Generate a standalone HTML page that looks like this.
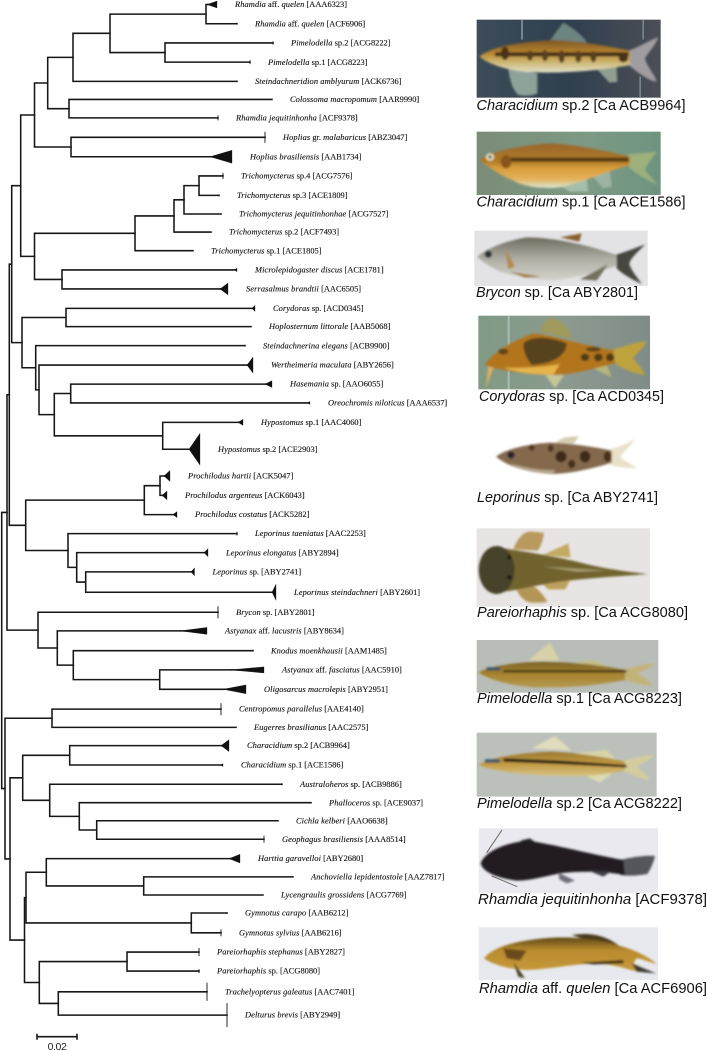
<!DOCTYPE html>
<html lang="en">
<head>
<meta charset="utf-8">
<title>Phylogenetic tree of fish species with photographs</title>
<style>
html,body{margin:0;padding:0;background:#fff;}
#wrap{position:relative;width:708px;height:1051px;overflow:hidden;background:#fff;}
svg{position:absolute;left:0;top:0;display:block;}
.lab{font-family:"Liberation Serif",serif;font-size:8.4px;fill:#111;stroke:#111;stroke-width:.12px;}
.cap{font-family:"Liberation Sans",sans-serif;font-size:14.5px;fill:#111;}
.scale{font-family:"Liberation Sans",sans-serif;font-size:10.5px;fill:#222;letter-spacing:-.4px;}
</style>
</head>
<body>
<div id="wrap">
<svg id="tree" width="708" height="1051" viewBox="0 0 708 1051" xmlns="http://www.w3.org/2000/svg"></svg>

<svg id="photos" width="708" height="1051" viewBox="0 0 708 1051" xmlns="http://www.w3.org/2000/svg">
<defs>
<filter id="soft" x="-5%" y="-5%" width="110%" height="110%"><feGaussianBlur stdDeviation="3"/></filter>
<linearGradient id="gChar2" x1="0" y1="0" x2="0" y2="1"><stop offset="0" stop-color="#7d5624"/><stop offset=".4" stop-color="#b8842f"/><stop offset=".62" stop-color="#c9ad63"/><stop offset="1" stop-color="#e0e2c8"/></linearGradient>
<linearGradient id="gChar1" x1="0" y1="0" x2="0" y2="1"><stop offset="0" stop-color="#98662a"/><stop offset=".4" stop-color="#b07a28"/><stop offset=".55" stop-color="#d99c3a"/><stop offset=".8" stop-color="#e4b25a"/><stop offset="1" stop-color="#dbe6d4"/></linearGradient>
<linearGradient id="gBry" x1="0" y1="0" x2="0" y2="1"><stop offset="0" stop-color="#6f6c5e"/><stop offset=".5" stop-color="#aeaea4"/><stop offset="1" stop-color="#d4d4cc"/></linearGradient>
<linearGradient id="gPim" x1="0" y1="0" x2="0" y2="1"><stop offset="0" stop-color="#7b6428"/><stop offset=".5" stop-color="#a8842f"/><stop offset="1" stop-color="#b39a55"/></linearGradient>
<linearGradient id="gPim2" x1="0" y1="0" x2="0" y2="1"><stop offset="0" stop-color="#9b7a30"/><stop offset=".5" stop-color="#c39a42"/><stop offset="1" stop-color="#d6c486"/></linearGradient>
<linearGradient id="gRh" x1="0" y1="0" x2="0" y2="1"><stop offset="0" stop-color="#5e4716"/><stop offset=".35" stop-color="#b98a2e"/><stop offset="1" stop-color="#c79b3c"/></linearGradient>
<linearGradient id="gBack1" x1="0" y1="0" x2="1" y2="0"><stop offset="0" stop-color="#3d4c58"/><stop offset=".5" stop-color="#2f3f4e"/><stop offset="1" stop-color="#4c4e56"/></linearGradient>
<linearGradient id="gBack2" x1="0" y1="0" x2="1" y2="0"><stop offset="0" stop-color="#7b8c78"/><stop offset=".6" stop-color="#7d9a84"/><stop offset="1" stop-color="#6d9480"/></linearGradient>
<linearGradient id="gBack4" x1="0" y1="0" x2="1" y2="0"><stop offset="0" stop-color="#7f9a84"/><stop offset=".5" stop-color="#8d9a8e"/><stop offset="1" stop-color="#7f8c88"/></linearGradient>
</defs>

<g transform="translate(460 10) scale(.33333)">
  <g>
    <rect x="50" y="29" width="552" height="234" fill="url(#gBack1)"/>
    <rect x="183" y="29" width="6" height="60" fill="#77838c"/>
    <rect x="547" y="29" width="5" height="60" fill="#77838c"/>
    <rect x="538" y="200" width="5" height="63" fill="#77838c"/>
    <g filter="url(#soft)">
      <path d="M270 92 C285 70 300 50 310 38 C340 55 365 75 382 98 Z" fill="#6d8580"/>
      <path d="M145 178 C150 210 155 235 175 255 C200 260 222 255 232 250 L232 190 Z" fill="#8da39a"/>
      <path d="M412 178 L448 218 L472 216 L470 172 Z" fill="#8f9e90"/>
      <path d="M505 122 C540 110 570 90 595 82 C585 110 560 130 555 148 C565 175 585 195 590 215 C560 210 525 180 505 165 Z" fill="#a09da0"/>
      <path d="M58 140 C90 115 150 98 280 90 C380 95 450 110 510 122 L510 165 C420 182 300 192 200 186 C140 180 90 165 58 140 Z" fill="url(#gChar2)"/>
      <rect x="105" y="127" width="400" height="12" fill="#3f2d16"/>
      <ellipse cx="135" cy="130" rx="12" ry="20" fill="#4a3317"/>
      <ellipse cx="210" cy="137" rx="9" ry="15" fill="#5a3f1b"/>
      <ellipse cx="255" cy="137" rx="9" ry="17" fill="#5a3f1b"/>
      <ellipse cx="305" cy="140" rx="9" ry="19" fill="#5a3f1b"/>
      <ellipse cx="355" cy="140" rx="9" ry="18" fill="#5a3f1b"/>
      <ellipse cx="400" cy="140" rx="9" ry="17" fill="#5a3f1b"/>
      <ellipse cx="490" cy="145" rx="14" ry="12" fill="#4a3317"/>
    </g>
  </g>
  <g>
    <rect x="50" y="365" width="552" height="190" fill="url(#gBack2)"/>
    <g filter="url(#soft)">
      <path d="M505 432 C540 430 570 428 590 425 C575 445 560 465 555 480 C565 495 585 515 595 525 C560 510 525 490 505 470 Z" fill="#9eb07c"/>
      <path d="M390 490 L450 485 L455 530 L430 535 Z" fill="#9db4a2"/>
      <path d="M300 528 L380 505 L385 545 L330 545 Z" fill="#a4bfaa"/>
      <path d="M58 450 C90 425 170 408 270 400 C360 405 450 425 510 440 L510 465 C450 480 360 520 300 532 C250 538 190 530 160 512 C120 495 85 470 58 450 Z" fill="url(#gChar1)"/>
      <rect x="130" y="443" width="375" height="12" fill="#523a19"/>
      <ellipse cx="138" cy="455" rx="16" ry="20" fill="#85551f"/>
      <ellipse cx="90" cy="441" rx="12" ry="11" fill="#efe4c8"/>
      <circle cx="90" cy="441" r="5" fill="#2b2210"/>
    </g>
  </g>
  <g>
    <rect x="43" y="662" width="520" height="166" fill="#e3e3e6"/>
    <g filter="url(#soft)">
      <path d="M300 682 L365 670 L358 695 Z" fill="#8a6030"/>
      <path d="M465 735 C500 725 530 712 555 704 C535 725 510 745 508 762 C515 785 535 805 545 822 C510 805 485 790 470 775 Z" fill="#46463f"/>
      <path d="M52 740 C80 715 140 692 200 682 C290 682 400 710 470 735 L470 768 C420 785 340 805 280 812 C220 810 150 795 120 785 C90 770 65 755 52 740 Z" fill="url(#gBry)"/>
      <path d="M360 808 L445 762 L410 812 Z" fill="#75705e"/>
      <path d="M150 785 L245 800 L195 803 Z" fill="#a87a3a"/>
      <path d="M135 712 L165 770 L145 778 Z" fill="#b58a4e"/>
      <circle cx="85" cy="733" r="11" fill="#2c3036"/>
    </g>
  </g>
</g>

<g transform="translate(460 300) scale(.33333)">
  <g>
    <rect x="55" y="47" width="515" height="221" fill="url(#gBack4)"/>
    <rect x="143" y="47" width="6" height="221" fill="#a8bcb2"/>
    <g filter="url(#soft)">
      <path d="M240 95 C250 75 255 60 270 55 C295 55 325 75 335 115 Z" fill="#a09a5c"/>
      <path d="M255 225 L285 265 L312 225 Z" fill="#c4c69a"/>
      <path d="M390 200 L440 195 L455 232 Z" fill="#b8b67c"/>
      <path d="M85 190 L78 265 L102 200 Z" fill="#dcae5e"/>
      <path d="M455 150 C490 140 530 125 560 125 C550 145 525 165 520 175 C535 195 550 210 555 225 C520 220 485 205 465 190 Z" fill="#bda23e"/>
      <path d="M75 195 C90 165 150 125 220 100 C280 105 380 140 460 150 L465 190 C420 200 340 225 280 225 C220 225 130 215 75 195 Z" fill="#b3741c"/>
      <path d="M190 130 C210 110 260 105 320 130 C320 160 290 190 215 195 C195 170 190 150 190 130 Z" fill="#57431c"/>
      <ellipse cx="415" cy="172" rx="13" ry="12" fill="#4f3b18"/>
      <ellipse cx="450" cy="172" rx="12" ry="12" fill="#4f3b18"/>
      <ellipse cx="375" cy="172" rx="13" ry="11" fill="#4f3b18"/>
      <ellipse cx="130" cy="155" rx="15" ry="9" fill="#5f4418"/>
      <ellipse cx="400" cy="148" rx="22" ry="7" fill="#5f4418"/>
      <path d="M130 203 C200 205 260 200 300 192 L280 224 C220 225 170 218 130 203 Z" fill="#e6b448"/>
    </g>
  </g>
  <g>
    <g filter="url(#soft)">
      <path d="M285 430 C300 415 320 408 357 410 L340 432 Z" fill="#d6ccb2"/>
      <path d="M440 450 C470 445 500 430 525 418 C510 440 485 460 482 472 C495 485 520 495 532 505 C500 505 460 500 440 490 Z" fill="#e8e0c8"/>
      <path d="M108 470 C130 450 200 432 270 428 C330 430 400 440 455 452 L455 488 C400 505 340 520 280 522 C220 520 150 505 108 470 Z" fill="#84694d"/>
      <path d="M150 490 C200 505 250 512 285 510 L280 520 C220 518 180 510 150 490 Z" fill="#b7a78f"/>
      <ellipse cx="303" cy="470" rx="17" ry="17" fill="#3f2a14"/>
      <ellipse cx="375" cy="470" rx="16" ry="18" fill="#3f2a14"/>
      <ellipse cx="335" cy="492" rx="11" ry="13" fill="#4a3018"/>
      <ellipse cx="443" cy="470" rx="12" ry="16" fill="#4a3018"/>
      <ellipse cx="272" cy="445" rx="9" ry="11" fill="#4f3720"/>
      <ellipse cx="215" cy="443" rx="9" ry="9" fill="#4f3720"/>
      <circle cx="153" cy="465" r="11" fill="#26262c"/>
    </g>
  </g>
  <g>
    <rect x="50" y="685" width="520" height="235" fill="#e7e4e3"/>
    <g filter="url(#soft)">
      <path d="M160 748 C170 720 185 700 205 695 C225 695 245 697 252 700 C248 725 240 745 232 752 Z" fill="#b89a5e"/>
      <path d="M165 858 C175 885 190 905 215 908 C235 908 255 908 262 905 C250 885 235 868 220 858 Z" fill="#b39657"/>
      <path d="M248 765 L325 730 L332 772 Z" fill="#c4a962"/>
      <path d="M245 850 L330 842 L315 868 L265 868 Z" fill="#bba15c"/>
      <path d="M130 745 C200 755 300 772 350 785 C420 805 500 815 562 822 C500 828 400 832 300 845 C230 855 180 870 130 875 Z" fill="#72642f"/>
      <path d="M250 800 L440 812 L350 815 Z" fill="#a89f74"/>
      <ellipse cx="110" cy="810" rx="54" ry="72" fill="#47432b"/>
      <circle cx="148" cy="832" r="7" fill="#1c1c18"/>
      <circle cx="148" cy="772" r="7" fill="#1c1c18"/>
    </g>
  </g>
</g>

<g transform="translate(460 630) scale(.33333)">
  <g>
    <rect x="50" y="30" width="545" height="158" fill="#b9bdb8"/>
    <g filter="url(#soft)">
      <path d="M205 92 L270 37 L298 92 Z" fill="#d8d2a8"/>
      <path d="M320 100 L400 90 L450 112 Z" fill="#c4bd88"/>
      <path d="M490 118 C520 112 560 100 585 100 C570 115 540 125 535 130 C550 140 570 155 578 168 C545 165 510 155 490 150 Z" fill="#c2b37a"/>
      <path d="M55 128 C80 110 160 97 250 95 C340 97 420 105 495 120 L495 150 C420 165 340 173 250 173 C170 172 100 155 55 128 Z" fill="url(#gPim)"/>
      <rect x="130" y="121" width="370" height="6" fill="#2e2716"/>
      <rect x="80" y="112" width="40" height="9" fill="#35506a"/>
    </g>
  </g>
  <g>
    <rect x="50" y="308" width="540" height="192" fill="#bcc0bb"/>
    <g filter="url(#soft)">
      <path d="M215 355 L285 318 L335 362 Z" fill="#e1dcbc"/>
      <path d="M340 370 L440 360 L470 390 Z" fill="#d8d4a8"/>
      <path d="M360 430 L470 420 L420 458 Z" fill="#dcdbb2"/>
      <path d="M485 392 C520 385 560 375 585 375 C570 390 535 405 530 410 C545 420 565 440 570 450 C540 445 505 430 485 420 Z" fill="#d4cc9c"/>
      <path d="M55 405 C85 385 170 368 280 365 C360 370 440 382 495 395 L495 420 C440 435 380 442 300 438 C220 435 120 430 55 405 Z" fill="url(#gPim2)"/>
      <path d="M130 385 L300 392 L500 405 L500 412 L300 402 L130 395 Z" fill="#231f14"/>
      <rect x="75" y="388" width="45" height="10" fill="#36566b"/>
    </g>
  </g>
  <g>
    <rect x="56" y="595" width="538" height="195" fill="#e9e9ef"/>
    <path d="M80 668 L126 600" stroke="#6b6460" stroke-width="3" fill="none"/>
    <path d="M95 738 L172 770" stroke="#7a7470" stroke-width="3" fill="none"/>
    <g filter="url(#soft)">
      <path d="M180 632 L210 625 L245 650 Z" fill="#2c2a2e"/>
      <path d="M480 690 C510 682 560 675 585 678 C580 700 570 720 562 732 C530 738 500 738 480 735 Z" fill="#55555c"/>
      <path d="M62 700 C75 665 130 640 200 632 C270 640 400 675 490 690 L495 735 C440 725 360 722 300 730 C250 740 210 752 170 752 C120 745 70 730 62 700 Z" fill="#211b20"/>
      <path d="M295 728 L345 752 L320 760 L298 748 Z" fill="#72707a"/>
      <path d="M385 722 L452 725 L430 740 Z" fill="#3e3d44"/>
    </g>
  </g>
  <g>
    <rect x="56" y="892" width="538" height="158" fill="#e7e9ee"/>
    <g filter="url(#soft)">
      <path d="M335 915 C380 908 430 910 478 948 C440 935 400 930 380 930 Z" fill="#4a3a1a"/>
      <path d="M72 985 C95 955 150 935 250 925 C320 918 420 925 470 945 C510 955 560 975 590 1002 C565 995 540 985 530 985 L520 1000 C540 1012 570 1022 588 1030 C565 1028 540 1026 520 1022 C480 1010 440 1000 400 1000 C320 1005 260 1018 200 1020 C150 1018 100 1005 72 985 Z" fill="url(#gRh)"/>
      <path d="M515 1000 L588 1030 L530 1025 Z" fill="#3e3a38"/>
      <path d="M160 995 L195 1045 L175 1040 Z" fill="#4c3e20"/>
      <path d="M130 955 L200 962 L180 992 L140 985 Z" fill="#6a4a1a"/>
      <path d="M360 998 L490 990 L490 1000 L400 1003 Z" fill="#3a2e16"/>
    </g>
  </g>
</g>

<text class="cap" x="476.5" y="110" textLength="209" lengthAdjust="spacingAndGlyphs"><tspan font-style="italic">Characidium</tspan> sp.2 [Ca ACB9964]</text>
<text class="cap" x="476.5" y="206.5" textLength="209" lengthAdjust="spacingAndGlyphs"><tspan font-style="italic">Characidium</tspan> sp.1 [Ca ACE1586]</text>
<text class="cap" x="476" y="297" textLength="162" lengthAdjust="spacingAndGlyphs"><tspan font-style="italic">Brycon</tspan> sp. [Ca ABY2801]</text>
<text class="cap" x="479" y="401" textLength="185" lengthAdjust="spacingAndGlyphs"><tspan font-style="italic">Corydoras</tspan> sp. [Ca ACD0345]</text>
<text class="cap" x="477" y="502" textLength="181" lengthAdjust="spacingAndGlyphs"><tspan font-style="italic">Leporinus</tspan> sp. [Ca ABY2741]</text>
<text class="cap" x="477" y="617" textLength="211" lengthAdjust="spacingAndGlyphs"><tspan font-style="italic">Pareiorhaphis</tspan> sp. [Ca ACG8080]</text>
<text class="cap" x="477" y="703" textLength="205" lengthAdjust="spacingAndGlyphs"><tspan font-style="italic">Pimelodella</tspan> sp.1 [Ca ACG8223]</text>
<text class="cap" x="477" y="808" textLength="205" lengthAdjust="spacingAndGlyphs"><tspan font-style="italic">Pimelodella</tspan> sp.2 [Ca ACG8222]</text>
<text class="cap" x="478" y="904" textLength="229" lengthAdjust="spacingAndGlyphs"><tspan font-style="italic">Rhamdia jequitinhonha</tspan> [ACF9378]</text>
<text class="cap" x="479" y="993" textLength="228" lengthAdjust="spacingAndGlyphs"><tspan font-style="italic">Rhamdia</tspan> aff. <tspan font-style="italic">quelen</tspan> [Ca ACF6906]</text>
</svg>
</div>

<script>
// Taxon labels, top to bottom
const taxa = [
"Rhamdia aff. quelen [AAA6323]","Rhamdia aff. quelen [ACF6906]","Pimelodella sp.2 [ACG8222]","Pimelodella sp.1 [ACG8223]",
"Steindachneridion amblyurum [ACK6736]","Colossoma macropomum [AAR9990]","Rhamdia jequitinhonha [ACF9378]","Hoplias gr. malabaricus [ABZ3047]",
"Hoplias brasiliensis [AAB1734]","Trichomycterus sp.4 [ACG7576]","Trichomycterus sp.3 [ACE1809]","Trichomycterus jequitinhonhae [ACG7527]",
"Trichomycterus sp.2 [ACF7493]","Trichomycterus sp.1 [ACE1805]","Microlepidogaster discus [ACE1781]","Serrasalmus brandtii [AAC6505]",
"Corydoras sp. [ACD0345]","Hoplosternum littorale [AAB5068]","Steindachnerina elegans [ACB9900]","Wertheimeria maculata [ABY2656]",
"Hasemania sp. [AAO6055]","Oreochromis niloticus [AAA6537]","Hypostomus sp.1 [AAC4060]","Hypostomus sp.2 [ACE2903]",
"Prochilodus hartii [ACK5047]","Prochilodus argenteus [ACK6043]","Prochilodus costatus [ACK5282]","Leporinus taeniatus [AAC2253]",
"Leporinus elongatus [ABY2894]","Leporinus sp. [ABY2741]","Leporinus steindachneri [ABY2601]","Brycon sp. [ABY2801]",
"Astyanax aff. lacustris [ABY8634]","Knodus moenkhausii [AAM1485]","Astyanax aff. fasciatus [AAC5910]","Oligosarcus macrolepis [ABY2951]",
"Centropomus parallelus [AAE4140]","Eugerres brasilianus [AAC2575]","Characidium sp.2 [ACB9964]","Characidium sp.1 [ACE1586]",
"Australoheros sp. [ACB9886]","Phalloceros sp. [ACE9037]","Cichla kelberi [AAO6638]","Geophagus brasiliensis [AAA8514]",
"Harttia garavelloi [ABY2680]","Anchoviella lepidentostole [AAZ7817]","Lycengraulis grossidens [ACG7769]","Gymnotus carapo [AAB6212]",
"Gymnotus sylvius [AAB6216]","Pareiorhaphis stephanus [ABY2827]","Pareiorhaphis sp. [ACG8080]","Trachelyopterus galeatus [AAC7401]",
"Delturus brevis [ABY2949]"];
// Row of each taxon on the vertical axis
const tipRow = [0,1,2,3,4,4.94,5.9,6.91,7.92,8.92,9.93,10.9,11.84,12.81,13.81,14.8,15.81,16.76,17.75,18.76,19.75,20.73,21.74,23.14,24.53,25.54,26.54,27.53,28.52,29.52,30.58,31.62,32.59,33.62,34.62,35.63,36.66,37.61,38.56,39.57,40.57,41.53,42.47,43.43,44.44,45.39,46.33,47.27,48.3,49.3,50.29,51.37,52.58];
// Distance from root to the tip (or to the apex of a collapsed clade), substitutions/site
const tipDist = [.1035,.1185,.1365,.125,.1185,.136,.109,.1325,.105,.1115,.1095,.1105,.1055,.0965,.1175,.11,.126,.1255,.1225,.1235,.1325,.154,.119,.0945,.082,.081,.0865,.1185,.102,.0955,.136,.109,.09,.1265,.115,.1115,.1105,.118,.1105,.1105,.141,.1555,.139,.132,.1145,.1465,.1315,.1135,.1105,.0995,.0995,.1035,.1135];
// Depth of each collapsed clade beyond its apex, substitutions/site
const cladeDepth = [.005,0,0,0,0,0,0,0,.011,0,0,0,0,0,.001,.004,.0015,0,0,.003,.0035,.001,.0025,.0055,.003,.0025,.002,0,.002,.00175,.002,0,.0135,0,.017,.0115,0,0,.004,.001,0,0,0,0,.0055,0,0,0,0,0,0,0,0];
// Vertical half-spread of each collapsed clade, in rows
const cladeSpread = [.18,.05,.08,.1,.04,0,.13,.29,.34,.16,.05,.04,0,0,.1,.31,.16,0,.05,.42,.18,.08,.16,.83,.29,.23,.16,.1,.21,.21,.42,.31,.18,.04,.16,.23,.31,0,.31,.08,.05,0,0,.18,.23,0,0,.05,.18,.21,.1,.47,.62];
// Internal node children (t = taxon index, n = earlier node index)
const nodeChildren = [
["t0","t1"],["t2","t3"],["n0","n1"],["n2","t4"],["t5","t6"],["n3","n4"],["t7","t8"],["n5","n6"],
["t9","t10"],["n8","t11"],["n9","t12"],["n10","t13"],["t14","t15"],["n11","n12"],["n7","n13"],
["t16","t17"],["t20","t21"],["t22","t23"],["n16","n17"],["t19","n18"],["t18","n19"],["n15","n20"],["n14","n21"],
["t24","t25"],["n23","t26"],["t29","t30"],["t28","n25"],["t27","n26"],["n24","n27"],["n22","n28"],
["t34","t35"],["t33","n30"],["t32","n31"],["t31","n32"],["n29","n33"],
["t36","t37"],["t38","t39"],["t42","t43"],["t41","n37"],["t40","n38"],["n36","n39"],
["t45","t46"],["t44","n41"],["t47","t48"],["n42","n43"],["t49","t50"],["t51","t52"],["n45","n46"],["n44","n47"],["n40","n48"],["n35","n49"],["n34","n50"]];
// Root distance of each internal node, substitutions/site
const nodeDist = [.103,.0825,.055,.0365,.0345,.02385,.0355,.01725,.0995,.092,.087,.0675,.031,.01725,.01035,.033,.03535,.08135,.02715,.0195,.01785,.011,.00585,.08,.07215,.04285,.03835,.034,.01285,.00465,.07985,.03665,.02865,.019,.0035,.026,.03485,.04835,.03965,.02485,.01135,.07185,.02315,.09565,.013,.0635,.02915,.01965,.01225,.005,.0025,.00085];
// Scale bar
const scaleValue = [0.02];
const scaleLabel = ["0.02"];

const svg = document.getElementById('tree');
const NS = 'http://www.w3.org/2000/svg';
const xAxis = d => d * 2000;
const yAxis = r => 4.5 + r * 19.22;
const LINE = '#161616';
const LABEL_GAP = 18;

function make(tag, attrs) {
  const e = document.createElementNS(NS, tag);
  for (const k in attrs) e.setAttribute(k, attrs[k]);
  return e;
}
function slug(s) { return s.toLowerCase().replace(/\[.*$/, '').replace(/[^a-z0-9]+/g, '-').replace(/-$/, ''); }

const nodeY = [];
function refDist(ref) { const i = +ref.slice(1); return ref[0] === 't' ? tipDist[i] : nodeDist[i]; }
function refY(ref) { const i = +ref.slice(1); return ref[0] === 't' ? yAxis(tipRow[i]) : nodeY[i]; }

// branches
nodeChildren.forEach((kids, n) => {
  const y0 = refY(kids[0]), y1 = refY(kids[1]);
  nodeY[n] = (y0 + y1) / 2;
  const x = xAxis(nodeDist[n]);
  const d = 'M' + xAxis(refDist(kids[0])) + ' ' + y0 + 'H' + x + 'V' + y1 + 'H' + xAxis(refDist(kids[1]));
  const el = make('path', {d: d, fill: 'none', stroke: LINE, 'stroke-width': 1.55, 'stroke-linecap': 'square'});
  
  
  svg.appendChild(el);
});

// tips: collapsed clade wedges and taxon labels
taxa.forEach((name, i) => {
  const ax = xAxis(tipDist[i]), ex = xAxis(tipDist[i] + cladeDepth[i]);
  const y = yAxis(tipRow[i]), h = cladeSpread[i] * 19.22;
  if (h > 0) {
    const el = make('polygon', {points: ax + ',' + y + ' ' + ex + ',' + (y - h) + ' ' + ex + ',' + (y + h), fill: '#111', stroke: '#111', 'stroke-width': cladeDepth[i] > 0 ? 0.3 : 0.9});
    
    
    svg.appendChild(el);
  }
  if (cladeDepth[i] > 0) {
    const st = make('path', {d: 'M' + ax + ' ' + y + 'H' + ex, stroke: '#111', 'stroke-width': 1.5, fill: 'none'});
    
    
    svg.appendChild(st);
  }
  const t = make('text', {x: ex + LABEL_GAP, y: y + 2.6, class: 'lab'});
  
  
  name.split(' ').forEach((w, k) => {
    const roman = /^(aff\.|gr\.|sp\.?\d?|\[.*\])$/.test(w);
    const s = make('tspan', roman ? {} : {'font-style': 'italic', 'letter-spacing': '.1'});
    s.textContent = (k ? ' ' : '') + w;
    t.appendChild(s);
  });
  svg.appendChild(t);
});

// scale bar
const bx0 = 37, bx1 = bx0 + xAxis(scaleValue[0]), by = 1036.7;
const bar = make('path', {d: 'M' + bx0 + ' ' + (by - 3) + 'V' + (by + 3) + 'M' + bx0 + ' ' + by + 'H' + bx1 + 'M' + bx1 + ' ' + (by - 3) + 'V' + (by + 3), fill: 'none', stroke: LINE, 'stroke-width': 1.6});


svg.appendChild(bar);
const bt = make('text', {x: (bx0 + bx1) / 2, y: 1050, 'text-anchor': 'middle', class: 'scale'});


bt.textContent = scaleLabel[0];
svg.appendChild(bt);
</script>
</body>
</html>
